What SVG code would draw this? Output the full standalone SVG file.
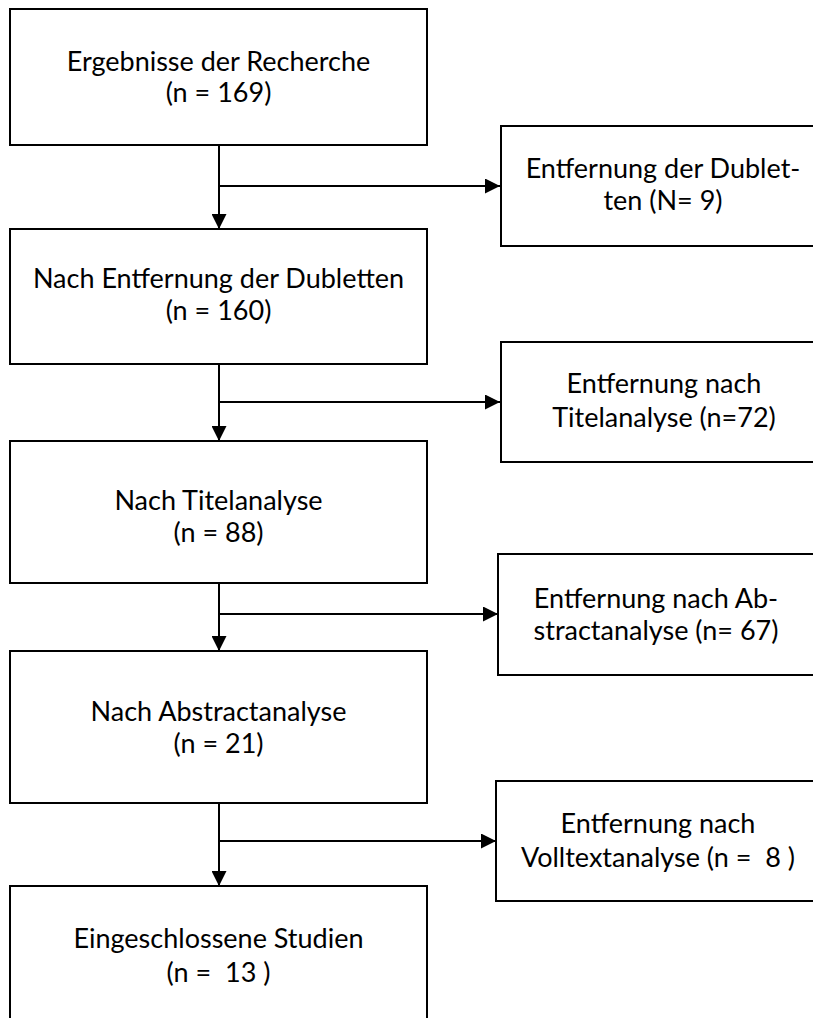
<svg xmlns="http://www.w3.org/2000/svg" width="813" height="1018" viewBox="0 0 813 1018">
<defs>
<style>
.box{fill:#fff;stroke:#000;stroke-width:2}
.t{font-family:Lato,"Open Sans","Liberation Sans",sans-serif;font-size:27px;fill:#000;text-anchor:middle}
.c{fill:none;stroke:#000;stroke-width:2}
</style>
<marker id="ah" markerUnits="userSpaceOnUse" markerWidth="15" markerHeight="15" refX="15" refY="7.5" orient="auto">
<path d="M0,0 L15,7.5 L0,15 Z" fill="#000"/>
</marker>
</defs>
<rect width="813" height="1018" fill="#fff"/>
<g id="connectors">
<path class="c" d="M219,145 V229" marker-end="url(#ah)"/>
<path class="c" d="M219,186 H500" marker-end="url(#ah)"/>
<path class="c" d="M219,364 V441" marker-end="url(#ah)"/>
<path class="c" d="M219,402 H500" marker-end="url(#ah)"/>
<path class="c" d="M219,583 V651" marker-end="url(#ah)"/>
<path class="c" d="M219,614 H498" marker-end="url(#ah)"/>
<path class="c" d="M219,803 V886" marker-end="url(#ah)"/>
<path class="c" d="M219,841 H496" marker-end="url(#ah)"/>
</g>
<g id="n1"><rect class="box" x="10" y="9" width="417" height="136"/>
<text class="t" x="218.5" y="71">Ergebnisse der Recherche</text>
<text class="t" x="218.5" y="102">(n = 169)</text></g>
<g id="n2"><rect class="box" x="10" y="229" width="417" height="135"/>
<text class="t" x="218.5" y="288">Nach Entfernung der Dubletten</text>
<text class="t" x="218.5" y="320">(n = 160)</text></g>
<g id="n3"><rect class="box" x="10" y="441" width="417" height="142"/>
<text class="t" x="218.5" y="510">Nach Titelanalyse</text>
<text class="t" x="218.5" y="542">(n = 88)</text></g>
<g id="n4"><rect class="box" x="10" y="651" width="417" height="152"/>
<text class="t" x="218.5" y="721">Nach Abstractanalyse</text>
<text class="t" x="218.5" y="753">(n = 21)</text></g>
<g id="n5"><rect class="box" x="10" y="886" width="417" height="150"/>
<text class="t" x="218.5" y="948">Eingeschlossene Studien</text>
<text class="t" x="218.5" y="982" xml:space="preserve">(n =  13 )</text></g>
<g id="r1"><rect class="box" x="501" y="126" width="330" height="120"/>
<text class="t" x="663" y="178">Entfernung der Dublet-</text>
<text class="t" x="663" y="210">ten (N= 9)</text></g>
<g id="r2"><rect class="box" x="501" y="342" width="330" height="120"/>
<text class="t" x="664" y="393">Entfernung nach</text>
<text class="t" x="664" y="427">Titelanalyse (n=72)</text></g>
<g id="r3"><rect class="box" x="498" y="554" width="330" height="121"/>
<text class="t" x="656" y="608">Entfernung nach Ab-</text>
<text class="t" x="656" y="640">stractanalyse (n= 67)</text></g>
<g id="r4"><rect class="box" x="496" y="781" width="330" height="120"/>
<text class="t" x="658" y="833">Entfernung nach</text>
<text class="t" x="658" y="867" xml:space="preserve">Volltextanalyse (n =  8 )</text></g>
</svg>
